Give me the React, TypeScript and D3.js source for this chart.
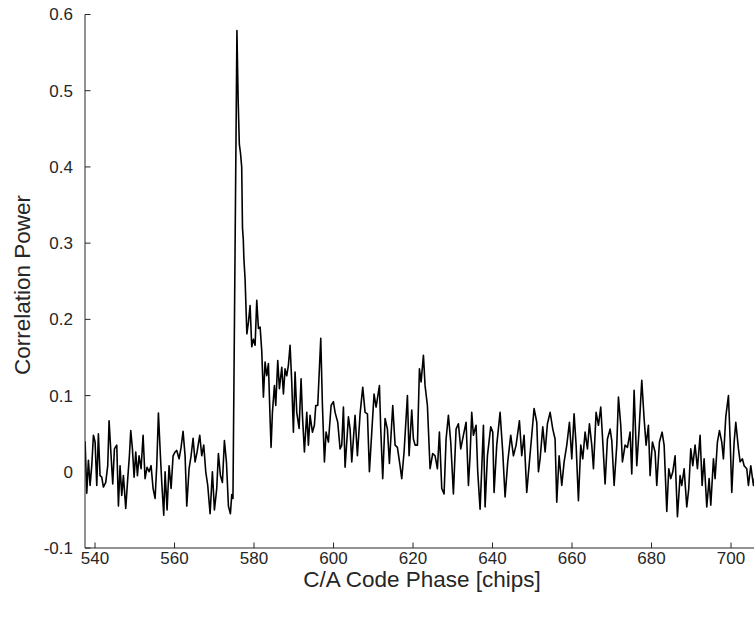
import React from 'react';
import * as d3 from 'd3';

// C/A code phase (chips) of each sample
const phase: number[] = [
  537.5, 537.92, 538.34, 538.76, 539.18, 539.6, 540.02, 540.44, 540.85, 541.27,
  541.69, 542.11, 542.7, 543.2, 543.54, 544.04, 544.46, 544.88, 545.47, 545.89,
  546.3, 546.72, 547.14, 547.73, 548.23, 548.65, 548.99, 549.41, 549.83, 550.25,
  550.67, 551.08, 551.59, 552.09, 552.59, 553.1, 553.6, 554.1, 554.61, 555.11,
  555.53, 555.95, 556.45, 556.79, 557.29, 557.63, 558.13, 558.63, 559.14, 559.64,
  560.14, 560.56, 561.15, 561.65, 562.15, 562.66, 563.08, 563.66, 564.17, 564.67,
  565.17, 565.68, 566.35, 566.85, 567.35, 567.86, 568.36, 568.95, 569.53, 570.04,
  570.62, 571.04, 571.55, 572.05, 572.55, 573.06, 573.56, 574.06, 574.4, 574.7,
  575.7, 576.0, 576.3, 576.6, 576.9, 577.1, 577.3, 577.45, 577.75, 578.2,
  578.59, 579.01, 579.43, 579.85, 580.27, 580.69, 581.11, 581.53, 581.94, 582.36,
  582.78, 583.2, 583.62, 584.04, 584.29, 584.63, 585.13, 585.47, 585.97, 586.39,
  586.98, 587.4, 587.81, 588.23, 588.65, 589.07, 589.49, 589.91, 590.33, 590.75,
  591.34, 591.84, 592.18, 592.68, 593.27, 593.68, 594.1, 594.69, 595.19, 595.53,
  596.03, 596.79, 597.21, 597.71, 598.13, 598.72, 599.39, 599.97, 600.39, 601.06,
  601.65, 602.07, 602.49, 602.91, 603.75, 604.17, 604.59, 605.42, 606.01, 606.68,
  607.35, 607.94, 608.53, 609.03, 609.62, 610.2, 610.71, 611.55, 611.88, 612.38,
  612.97, 613.56, 614.06, 614.9, 615.49, 616.07, 616.74, 617.16, 617.75, 618.59,
  619.01, 619.68, 620.1, 620.52, 621.11, 621.61, 622.03, 622.62, 623.03, 623.62,
  624.29, 624.96, 625.55, 626.14, 626.64, 627.23, 627.81, 628.32, 628.9, 629.49,
  630.16, 630.83, 631.42, 632.01, 632.68, 633.35, 633.94, 634.35, 634.77, 635.19,
  635.86, 636.28, 636.87, 637.29, 637.71, 638.13, 638.72, 639.55, 640.06, 640.39,
  641.06, 641.9, 642.57, 643.16, 643.83, 644.58, 645.26, 645.93, 646.77, 647.35,
  647.94, 648.61, 649.28, 649.87, 650.45, 651.13, 651.55, 651.97, 652.64, 653.23,
  653.81, 654.49, 655.16, 655.74, 656.16, 656.75, 657.42, 658.01, 658.68, 659.35,
  659.94, 660.52, 661.03, 661.61, 662.2, 662.7, 663.29, 663.88, 664.38, 664.97,
  665.39, 666.06, 666.65, 667.23, 667.74, 668.32, 668.91, 669.58, 670.0, 670.59,
  671.26, 671.68, 672.26, 672.68, 673.35, 673.94, 674.61, 675.03, 675.62, 676.29,
  676.88, 677.55, 678.13, 678.64, 679.22, 679.64, 680.23, 680.9, 681.32, 681.99,
  682.66, 683.17, 683.84, 684.34, 684.84, 685.35, 685.93, 686.52, 687.19, 687.61,
  688.2, 688.87, 689.37, 689.87, 690.38, 690.96, 691.55, 692.22, 692.73, 693.23,
  693.9, 694.49, 694.91, 695.58, 695.99, 696.58, 697.09, 697.67, 698.09, 698.68,
  699.35, 699.77, 700.19, 700.78, 701.2, 701.87, 702.29, 702.87, 703.29, 703.96,
  704.38, 704.97, 705.64, 706.2,
];

// Correlation power of each sample
const power: number[] = [
  0.04, -0.028, 0.015, -0.018, 0.008, 0.048, 0.039, -0.018, 0.05, -0.005,
  -0.007, -0.02, -0.014, 0.008, 0.067, 0.021, -0.016, 0.03, 0.035, -0.045,
  0.008, -0.031, -0.005, -0.048, -0.009, 0.021, 0.054, 0.03, -0.007, 0.026,
  -0.005, 0.021, 0.004, 0.048, -0.009, 0.006, 0.0, 0.008, -0.022, -0.035,
  0.008, 0.077, 0.021, -0.014, -0.057, 0.0, -0.05, 0.008, -0.022, 0.021,
  0.026, 0.028, 0.017, 0.032, 0.053, 0.021, -0.045, 0.004, 0.021, 0.044,
  0.013, 0.026, 0.048, 0.021, 0.035, 0.0, -0.018, -0.055, 0.0, -0.05,
  -0.022, 0.024, -0.005, -0.014, 0.041, 0.013, -0.045, -0.055, -0.03, -0.035,
  0.579, 0.49, 0.43, 0.418, 0.4, 0.32, 0.305, 0.28, 0.253, 0.181,
  0.196, 0.218, 0.164, 0.174, 0.166, 0.225, 0.188, 0.19, 0.159, 0.098,
  0.144, 0.126, 0.142, 0.07, 0.032, 0.078, 0.113, 0.087, 0.146, 0.109,
  0.137, 0.102, 0.135, 0.126, 0.14, 0.166, 0.118, 0.052, 0.131, 0.078,
  0.057, 0.122, 0.074, 0.026, 0.078, 0.035, 0.074, 0.052, 0.061, 0.087,
  0.087, 0.175, 0.087, 0.013, 0.052, 0.039, 0.087, 0.092, 0.078, 0.065,
  0.03, 0.035, 0.085, 0.006, 0.072, 0.056, 0.013, 0.074, 0.021, 0.076,
  0.111, 0.078, 0.076, 0.0, 0.052, 0.102, 0.085, 0.113, 0.056, -0.009,
  0.07, 0.056, 0.011, 0.087, 0.035, 0.032, 0.008, -0.009, 0.026, 0.1,
  0.021, 0.081, 0.043, 0.035, 0.035, 0.135, 0.118, 0.153, 0.113, 0.087,
  0.004, 0.024, 0.021, 0.004, 0.052, -0.022, -0.029, 0.043, 0.074, 0.039,
  -0.029, 0.056, 0.063, 0.03, 0.048, 0.065, -0.018, 0.021, 0.078, 0.048,
  0.061, 0.0, -0.049, 0.004, 0.061, -0.046, 0.021, 0.059, 0.052, -0.027,
  0.035, 0.078, 0.026, -0.033, 0.013, 0.048, 0.021, 0.035, 0.067, 0.021,
  0.048, -0.027, 0.013, 0.048, 0.083, 0.065, 0.0, 0.017, 0.059, 0.026,
  0.063, 0.078, 0.056, 0.043, -0.04, 0.021, -0.018, 0.013, 0.035, 0.065,
  0.017, 0.076, 0.035, -0.038, 0.035, 0.017, 0.052, 0.03, 0.063, 0.035,
  0.004, 0.078, 0.061, 0.085, 0.039, -0.016, 0.043, 0.056, 0.041, -0.018,
  0.035, 0.098, 0.061, 0.013, 0.035, 0.032, 0.052, -0.003, 0.107, 0.008,
  0.056, 0.12, 0.07, 0.035, 0.061, -0.005, 0.039, 0.026, -0.018, 0.039,
  0.052, 0.035, -0.052, 0.004, -0.009, 0.0, 0.021, -0.059, -0.005, -0.018,
  0.004, -0.046, -0.022, 0.03, 0.008, 0.035, 0.004, 0.048, -0.018, 0.017,
  -0.046, -0.009, -0.044, 0.017, -0.009, 0.039, 0.054, 0.039, 0.017, 0.072,
  0.1, 0.043, -0.027, 0.039, 0.065, 0.03, 0.013, 0.017, 0.008, 0.004,
  -0.018, 0.008, -0.018, 0.0,
];

const xTicks: number[] = [540, 560, 580, 600, 620, 640, 660, 680, 700];
const yTicks: number[] = [-0.1, 0, 0.1, 0.2, 0.3, 0.4, 0.5, 0.6];
const yTickLabels: string[] = ['-0.1', '0', '0.1', '0.2', '0.3', '0.4', '0.5', '0.6'];
const xLabel = 'C/A Code Phase [chips]';
const yLabel = 'Correlation Power';

export default function App() {
  const W = 754;
  const H = 618;
  const left = 85;
  const right = 754;
  const top = 14.5;
  const bottom = 548;
  const x = d3.scaleLinear().domain([537.48, 705.78]).range([left, right]);
  const y = d3.scaleLinear().domain([-0.1, 0.6]).range([bottom, top]);
  const line = d3
    .line<number>()
    .x((_, i) => x(phase[i]))
    .y((d) => y(d));
  const axisColor = '#262626';
  const font = "'Liberation Sans', Arial, Helvetica, sans-serif";

  return (
    <svg
      width={W}
      height={H}
      style={{ position: 'absolute', left: 0, top: 0, background: '#fff' }}
    >
      <defs>
        <clipPath id="plot">
          <rect x={left} y={0} width={right - left} height={bottom} />
        </clipPath>
      </defs>
      <rect x={0} y={0} width={W} height={H} fill="#fff" />
      <path
        d={line(power) || ''}
        fill="none"
        stroke="#000"
        strokeWidth={1.6}
        strokeLinejoin="round"
        clipPath="url(#plot)"
      />
      {/* y axis */}
      <line x1={left} x2={left} y1={top} y2={bottom} stroke={axisColor} strokeWidth={1} />
      {yTicks.map((t, i) => (
        <g key={'y' + t}>
          <line x1={left} x2={left + 5.5} y1={y(t)} y2={y(t)} stroke={axisColor} strokeWidth={1} />
          <text
            x={73}
            y={y(t)}
            dy="0.35em"
            textAnchor="end"
            fontFamily={font}
            fontSize={17}
            fill={axisColor}
          >
            {yTickLabels[i]}
          </text>
        </g>
      ))}
      {/* x axis */}
      <line x1={left} x2={right} y1={bottom} y2={bottom} stroke={axisColor} strokeWidth={1} />
      {xTicks.map((t) => (
        <g key={'x' + t}>
          <line x1={x(t)} x2={x(t)} y1={bottom} y2={bottom - 5.5} stroke={axisColor} strokeWidth={1} />
          <text
            x={x(t)}
            y={564}
            textAnchor="middle"
            fontFamily={font}
            fontSize={17}
            fill={axisColor}
          >
            {t}
          </text>
        </g>
      ))}
      <text
        x={422}
        y={587}
        textAnchor="middle"
        fontFamily={font}
        fontSize={22.5}
        fill={axisColor}
      >
        {xLabel}
      </text>
      <text
        transform={`translate(30,${285}) rotate(-90)`}
        textAnchor="middle"
        fontFamily={font}
        fontSize={22.5}
        fill={axisColor}
      >
        {yLabel}
      </text>
    </svg>
  );
}
